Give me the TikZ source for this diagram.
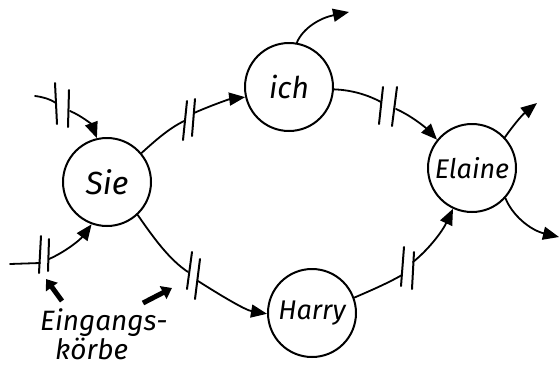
\documentclass[tikz,border=0pt]{standalone}
\usepackage{fontspec}
\setmainfont{Fira Sans}
\usetikzlibrary{arrows.meta}
\newcommand{\fs}[1]{\fontsize{#1}{#1}\selectfont\itshape}
\begin{document}
\begin{tikzpicture}[x=1pt,y=-1pt,
  flow/.style={line width=1.8pt, line cap=round},
  arr/.style={flow,-{Triangle[length=16pt,width=13pt]}},
  bar/.style={line width=2pt, line cap=round},
  actor/.style={circle, draw, line width=2pt, minimum size=88pt, inner sep=0pt},
  hint/.style={line width=5pt, -{Triangle[length=10pt,width=14pt]}},
  lbl/.style={anchor=base west, inner sep=0pt}
]
\useasboundingbox (0,0) rectangle (560,365);
% actors
\node[actor, font=\fs{32}] (sie) at (107,182) {Sie};
\node[actor, font=\fs{30}] (ich) at (289,87) {ich};
\node[actor, font=\fs{27}] (elaine) at (472,168) {Elaine};
\node[actor, font=\fs{27}] (harry) at (312,313) {Harry};
% free ends
\coordinate (s1) at (35,96);
\coordinate (b1a) at (56,103);
\coordinate (b1b) at (70,111);
\coordinate (s2) at (10,264);
\coordinate (b2a) at (40,263);
\coordinate (b2b) at (49,259);
\coordinate (b3a) at (184,121);
\coordinate (b3b) at (194,113);
\coordinate (b4a) at (381,102);
\coordinate (b4b) at (396,109);
\coordinate (b5a) at (188,272);
\coordinate (b5b) at (198,281);
\coordinate (b6a) at (402,275);
\coordinate (b6b) at (413,262);
\coordinate (o1) at (349,12);
\coordinate (o2) at (537,103);
\coordinate (o3) at (559,237);
% inbox 1 (top left)
\draw[flow] (s1) .. controls (43,97) and (50,99) .. (b1a);
\draw[bar] (55,83) -- (57,124);
\draw[bar] (69,90) -- (68,127);
\draw[arr] (b1b) .. controls (82,116) and (92,125) .. (sie.103);
% inbox 2 (bottom left)
\draw[flow] (s2) -- (b2a);
\draw[bar] (41,236) -- (39,273);
\draw[bar] (49,239) -- (48,271);
\draw[arr] (b2b) .. controls (65,252) and (80,240) .. (sie.250);
% Sie -> ich
\draw[flow] (sie.40) .. controls (158,138) and (170,128) .. (b3a);
\draw[bar] (187,101) -- (183,140);
\draw[bar] (195,99) -- (192,136);
\draw[arr] (b3b) .. controls (212,105) and (230,99) .. (ich.193);
% ich -> Elaine
\draw[flow] (ich.357) .. controls (352,90) and (368,95) .. (b4a);
\draw[bar] (383,87) -- (379,124);
\draw[bar] (397,87) -- (392,126);
\draw[arr] (b4b) .. controls (410,115) and (425,127) .. (elaine.141);
% Sie -> Harry
\draw[flow] (sie.313) .. controls (155,240) and (170,260) .. (b5a);
\draw[bar] (192,252) -- (187,289);
\draw[bar] (200,259) -- (195,299);
\draw[arr] (b5b) .. controls (220,295) and (245,310) .. (harry.181);
% Harry -> Elaine
\draw[flow] (harry.20) .. controls (372,290) and (388,283) .. (b6a);
\draw[bar] (404,247) -- (401,286);
\draw[bar] (414,252) -- (412,289);
\draw[arr] (b6b) .. controls (428,250) and (442,232) .. (elaine.245);
% outgoing
\draw[arr] (ich.80) .. controls (303,28) and (320,18) .. (o1);
\draw[arr] (elaine.43) .. controls (512,127) and (522,115) .. (o2);
\draw[arr] (elaine.318) .. controls (512,215) and (530,230) .. (o3);
% label
\node[lbl, font=\fs{28}] (l1) at (40,330) {Eingangs-};
\node[lbl, font=\fs{28}] (l2) at (55,359) {körbe};
\coordinate (h1) at (46,279);
\coordinate (h2) at (172,288);
\draw[hint] (62,301) -- (h1);
\draw[hint] (143,303) -- (h2);
\end{tikzpicture}
\end{document}
